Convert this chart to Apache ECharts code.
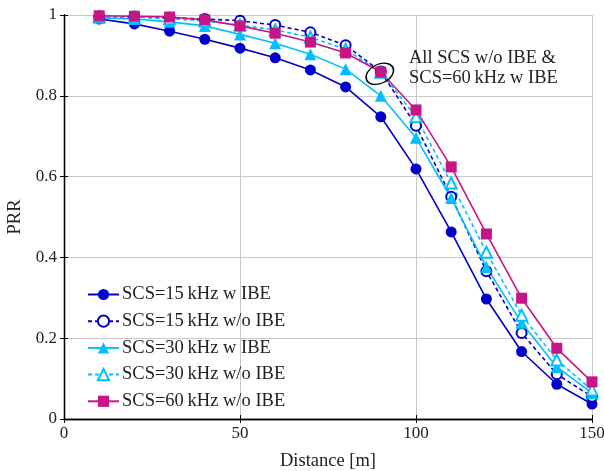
<!DOCTYPE html>
<html>
<head>
<meta charset="utf-8">
<script src="https://cdn.jsdelivr.net/npm/echarts@6/dist/echarts.min.js"></script>
<style>html,body{margin:0;padding:0;background:#fff;}#c{width:604px;height:471px;}</style>
</head>
<body>
<div id="c"></div>
<script>
const distances = [10,20,30,40,50,60,70,80,90,100,110,120,130,140,150];
const scs15wIBE   = [0.990,0.978,0.960,0.940,0.918,0.894,0.864,0.822,0.748,0.619,0.463,0.297,0.167,0.086,0.037];
const scs15woIBE  = [0.996,0.995,0.993,0.990,0.986,0.975,0.957,0.925,0.860,0.726,0.550,0.366,0.213,0.111,0.055];
const scs30wIBE   = [0.993,0.990,0.983,0.973,0.952,0.930,0.903,0.866,0.800,0.696,0.547,0.376,0.238,0.129,0.064];
const scs30woIBE  = [0.996,0.995,0.991,0.985,0.975,0.963,0.945,0.915,0.858,0.748,0.584,0.413,0.257,0.146,0.072];
const scs60woIBE  = [0.998,0.997,0.995,0.988,0.973,0.955,0.933,0.906,0.859,0.765,0.624,0.458,0.299,0.175,0.092];
const seriesNames = ['SCS=15\u2009kHz w IBE','SCS=15\u2009kHz w/o IBE','SCS=30\u2009kHz w IBE','SCS=30\u2009kHz w/o IBE','SCS=60\u2009kHz w/o IBE'];
const xTicks = {min:0, max:150, interval:50};
const yTicks = {min:0, max:1, interval:0.2};
const annotationLines = ['All SCS w/o IBE &','SCS=60\u2009kHz w IBE'];
const annotatedPoint = [90, 0.857];

const FONT = '"Liberation Serif", "DejaVu Serif", serif';
const TXT = 18.5, NUM = 17;
const DB = '#0000cd', LB = '#00bfff', MG = '#c71585';
const pair = arr => arr.map((v,i)=>[distances[i], v]);

function mk(name, data, color, symbol, size, dashed){
  return {
    name, type:'line', data: pair(data), color,
    symbol, symbolSize: size, showSymbol:true,
    lineStyle:{color, width:1.6, type: dashed ? [4,3] : 'solid'},
    itemStyle:{color, borderColor:color, borderWidth: symbol.startsWith('empty') ? 2 : 0},
    emphasis:{disabled:true}, animation:false, z: 3
  };
}

const chart = echarts.init(document.getElementById('c'), null, {renderer:'canvas'});
const axisCommon = {
  axisLine:{show:true, lineStyle:{color:'#000', width:1.3}},
  axisTick:{show:true, inside:true, length:4, lineStyle:{color:'#000'}},
};
const option = {
  animation:false,
  textStyle:{fontFamily:FONT},
  grid:{left:64, right:12, top:15, bottom:52, containLabel:false, outerBoundsMode:'none'},
  xAxis:[
    Object.assign({type:'value', min:xTicks.min, max:xTicks.max, interval:xTicks.interval,
      name:'Distance [m]', nameLocation:'middle', nameGap:33,
      nameTextStyle:{fontFamily:FONT, fontSize:TXT, color:'#222'},
      axisLabel:{fontFamily:FONT, fontSize:NUM, color:'#222', margin:6},
      splitLine:{show:true, lineStyle:{color:'#c8c8c8', width:1}}}, axisCommon),
    Object.assign({type:'value', position:'top', min:xTicks.min, max:xTicks.max, interval:xTicks.interval,
      axisLabel:{show:false}, splitLine:{show:false}}, axisCommon)
  ],
  yAxis:[
    Object.assign({type:'value', min:yTicks.min, max:yTicks.max, interval:yTicks.interval,
      name:'PRR', nameLocation:'middle', nameGap:34,
      nameTextStyle:{fontFamily:FONT, fontSize:TXT, color:'#222'},
      axisLabel:{fontFamily:FONT, fontSize:NUM, color:'#222', margin:7, formatter: v => String(+v.toFixed(1))},
      splitLine:{show:true, lineStyle:{color:'#c8c8c8', width:1}}}, axisCommon),
    Object.assign({type:'value', position:'right', min:yTicks.min, max:yTicks.max, interval:yTicks.interval,
      axisLabel:{show:false}, splitLine:{show:false}}, axisCommon)
  ],
  legend:{
    orient:'vertical', left:87, top:285, padding:0, itemWidth:31, itemHeight:14, itemGap:7.7,
    textStyle:{fontFamily:FONT, fontSize:TXT, lineHeight:18, color:'#222', padding:[0,0,0,-2]},
    data: seriesNames, selectedMode:false
  },
  series:[
    mk(seriesNames[0], scs15wIBE, DB, 'circle', 11, false),
    mk(seriesNames[1], scs15woIBE, DB, 'emptyCircle', 10, true),
    mk(seriesNames[2], scs30wIBE, LB, 'triangle', 12, false),
    mk(seriesNames[3], scs30woIBE, LB, 'emptyTriangle', 11, true),
    mk(seriesNames[4], scs60woIBE, MG, 'rect', 11, false)
  ]
};
chart.setOption(option);

const p = chart.convertToPixel({xAxisIndex:0, yAxisIndex:0}, annotatedPoint);
chart.setOption({
  graphic:[
    {type:'circle', x:p[0]-1, y:p[1]+1, scaleX:1.45, scaleY:0.95, rotation:0.45,
     shape:{cx:0, cy:0, r:10}, style:{fill:'none', stroke:'#000', lineWidth:1.4, strokeNoScale:true}, z:10},
    {type:'text', x:409, y:48, style:{text:annotationLines.join('\n'), font:TXT + 'px ' + FONT, fill:'#222', lineHeight:20}, z:10}
  ]
});
</script>
</body>
</html>
